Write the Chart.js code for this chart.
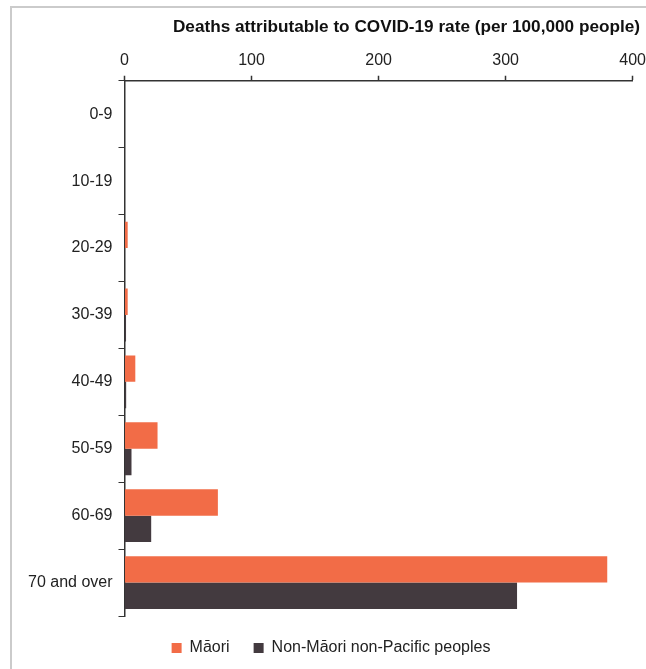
<!DOCTYPE html>
<html>
<head>
<meta charset="utf-8">
<script src="https://cdn.jsdelivr.net/npm/chart.js@4"></script>
<style>
  body { margin: 0; background: #fff; }
  #wrap { position: relative; width: 646px; height: 669px; }
  #frame { position: absolute; left: 10px; top: 6px; right: -10px; bottom: -10px;
           border-top: 2px solid #cbcbcb; border-left: 2px solid #cbcbcb; }
  canvas { position: absolute; left: 0; top: 0; }
</style>
</head>
<body>
<div id="wrap">
  <div id="frame"></div>
  <canvas id="chart" width="646" height="669"></canvas>
</div>
<script>
// DATOS
const ageGroups = ['0-9', '10-19', '20-29', '30-39', '40-49', '50-59', '60-69', '70 and over'];
const maoriRate = [0, 0, 2.5, 2.5, 8.5, 26, 73.5, 380];
const nonMaoriRate = [0, 0, 0.3, 1.2, 1.3, 5.5, 21, 309];
const xTicks = [0, 100, 200, 300, 400];

Chart.defaults.font.family = '"Liberation Sans", Arial, sans-serif';
Chart.defaults.color = '#222';

new Chart(document.getElementById('chart'), {
    type: 'bar',
    data: {
        labels: ageGroups,
        datasets: [
            { label: 'Māori', data: maoriRate, backgroundColor: '#f26c47',
              categoryPercentage: 0.79, barPercentage: 1 },
            { label: 'Non-Māori non-Pacific peoples', data: nonMaoriRate, backgroundColor: '#433a3f',
              categoryPercentage: 0.79, barPercentage: 1 }
        ]
    },
    options: {
        responsive: false,
        animation: false,
        indexAxis: 'y',
        layout: { padding: { top: 7, left: 22, right: 6, bottom: 3 } },
        plugins: {
            title: {
                display: true,
                text: 'Deaths attributable to COVID-19 rate (per 100,000 people)',
                align: 'end',
                font: { size: 17.2, weight: 'bold' },
                color: '#111',
                padding: { top: 10, bottom: 13 }
            },
            legend: {
                position: 'bottom',
                labels: { boxWidth: 10, boxHeight: 10, font: { size: 16 }, color: '#222', padding: 24 }
            },
            tooltip: { enabled: false }
        },
        scales: {
            x: {
                position: 'top',
                min: 0, max: 400,
                afterBuildTicks: (axis) => { axis.ticks = xTicks.map(v => ({ value: v })); },
                // marcas cortas: solo los 5px junto al eje
                grid: { drawOnChartArea: false, tickLength: 11, tickColor: '#333', tickWidth: 1.5,
                        tickBorderDash: [0, 6, 5, 0] },
                border: { color: '#333', width: 1.5 },
                ticks: { font: { size: 16 }, padding: 0, maxRotation: 0 }
            },
            y: {
                grid: { drawOnChartArea: false, tickLength: 6, color: '#333', offset: true },
                border: { color: '#333', width: 1.5 },
                ticks: { font: { size: 16 }, padding: 6 }
            }
        }
    }
});
</script>
</body>
</html>
